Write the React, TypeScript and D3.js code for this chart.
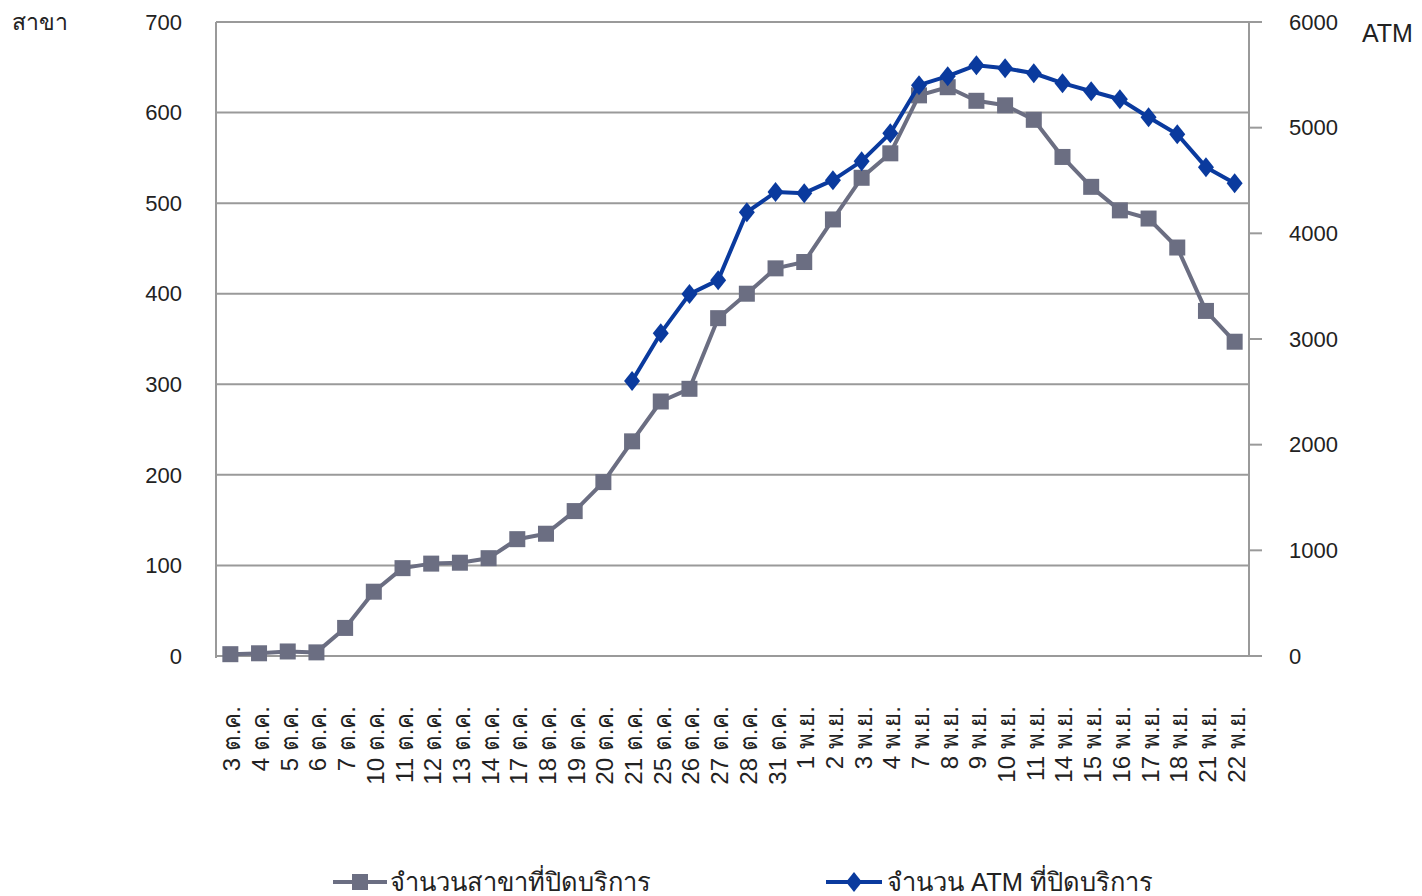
import React from "react";
import * as d3 from "d3";

const days: string[] = [
  "3 ต.ค.", "4 ต.ค.", "5 ต.ค.", "6 ต.ค.", "7 ต.ค.", "10 ต.ค.", "11 ต.ค.", "12 ต.ค.", "13 ต.ค.", "14 ต.ค.",
  "17 ต.ค.", "18 ต.ค.", "19 ต.ค.", "20 ต.ค.", "21 ต.ค.", "25 ต.ค.", "26 ต.ค.", "27 ต.ค.", "28 ต.ค.", "31 ต.ค.",
  "1 พ.ย.", "2 พ.ย.", "3 พ.ย.", "4 พ.ย.", "7 พ.ย.", "8 พ.ย.", "9 พ.ย.", "10 พ.ย.", "11 พ.ย.", "14 พ.ย.",
  "15 พ.ย.", "16 พ.ย.", "17 พ.ย.", "18 พ.ย.", "21 พ.ย.", "22 พ.ย.",
];

const branches: number[] = [
  2, 3, 5, 4, 31, 71, 97, 102, 103, 108,
  129, 135, 160, 192, 237, 281, 295, 373, 400, 428,
  435, 482, 528, 555, 619, 628, 613, 608, 592, 551,
  518, 492, 483, 451, 381, 347,
];

const atms: (number | null)[] = [
  null, null, null, null, null, null, null, null, null, null,
  null, null, null, null, 2602, 3055, 3425, 3557, 4200, 4390,
  4380, 4503, 4683, 4948, 5402, 5487, 5591, 5563, 5515, 5421,
  5345, 5269, 5099, 4938, 4626, 4475,
];

const leftTicks: number[] = [0, 100, 200, 300, 400, 500, 600, 700];
const rightTicks: number[] = [0, 1000, 2000, 3000, 4000, 5000, 6000];

const legendBranch = "จำนวนสาขาที่ปิดบริการ";
const legendAtm = "จำนวน ATM ที่ปิดบริการ";

const GRAY = "#6b6e82";
const BLUE = "#0a3a9e";
const GRID = "#9a9a9a";
const FONT = "'Liberation Sans', Arial, sans-serif";

export default function App() {
  const left = 216, right = 1249, top = 22, bottom = 656;
  const x = d3.scaleBand<string>().domain(days).range([left, right]);
  const cx = (d: string) => (x(d) as number) + x.bandwidth() / 2;
  const yL = d3.scaleLinear().domain([0, 700]).range([bottom, top]);
  const yR = d3.scaleLinear().domain([0, 6000]).range([bottom, top]);

  const lineB = d3.line<number>().x((_, i) => cx(days[i])).y((v) => yL(v));
  const atmPts = atms
    .map((v, i) => ({ d: days[i], v }))
    .filter((p) => p.v !== null) as { d: string; v: number }[];
  const lineA = d3.line<{ d: string; v: number }>().x((p) => cx(p.d)).y((p) => yR(p.v));

  const sq = 16;
  const diamond = (px: number, py: number, s = 9) =>
    `M${px},${py - s - 1}L${px + s - 1},${py}L${px},${py + s + 1}L${px - s + 1},${py}Z`;

  return (
    <svg width={1422} height={896} style={{ position: "absolute", left: 0, top: 0, background: "#fff" }} fontFamily={FONT}>
      {/* gridlines */}
      {leftTicks.slice(1).map((t) => (
        <line key={t} x1={left} x2={t === 700 ? right + 13 : right} y1={yL(t)} y2={yL(t)} stroke={GRID} strokeWidth={2} />
      ))}
      <line x1={left} x2={right} y1={bottom} y2={bottom} stroke={GRID} strokeWidth={2} />
      <line x1={left} x2={left} y1={top} y2={bottom + 2} stroke={GRID} strokeWidth={2} />
      <line x1={right} x2={right} y1={top} y2={bottom} stroke={GRID} strokeWidth={2} />
      {rightTicks.map((t) => (
        <line key={t} x1={right} x2={right + 13} y1={yR(t)} y2={yR(t)} stroke={GRID} strokeWidth={2} />
      ))}

      {/* tick labels */}
      {leftTicks.map((t) => (
        <text key={t} x={182} y={yL(t)} dy="0.35em" textAnchor="end" fontSize={22} fill="#222">{t}</text>
      ))}
      {rightTicks.map((t) => (
        <text key={t} x={1289} y={yR(t)} dy="0.35em" textAnchor="start" fontSize={22} fill="#222">{t}</text>
      ))}
      <text x={12} y={30} fontSize={23} fill="#222">สาขา</text>
      <text x={1362} y={42} fontSize={25} fill="#222">ATM</text>

      {/* x labels */}
      {days.map((d) => (
        <text key={d} transform={`translate(${cx(d) + 10},${706}) rotate(-90)`} textAnchor="end" fontSize={24} fill="#222">{d}</text>
      ))}

      {/* branch series */}
      <path d={lineB(branches) as string} fill="none" stroke={GRAY} strokeWidth={4} strokeLinejoin="round" />
      {branches.map((v, i) => (
        <rect key={i} x={cx(days[i]) - sq / 2} y={yL(v) - sq / 2} width={sq} height={sq} fill={GRAY} />
      ))}

      {/* ATM series */}
      <path d={lineA(atmPts) as string} fill="none" stroke={BLUE} strokeWidth={4} strokeLinejoin="round" />
      {atmPts.map((p, i) => (
        <path key={i} d={diamond(cx(p.d), yR(p.v))} fill={BLUE} />
      ))}

      {/* legend */}
      <line x1={333} x2={387} y1={882} y2={882} stroke={GRAY} strokeWidth={4} />
      <rect x={360 - sq / 2} y={882 - sq / 2} width={sq} height={sq} fill={GRAY} />
      <text x={390} y={891} fontSize={25.5} fill="#222">{legendBranch}</text>
      <line x1={826} x2={882} y1={882} y2={882} stroke={BLUE} strokeWidth={4} />
      <path d={diamond(854, 882)} fill={BLUE} />
      <text x={887} y={891} fontSize={25.5} fill="#222">{legendAtm}</text>
    </svg>
  );
}
